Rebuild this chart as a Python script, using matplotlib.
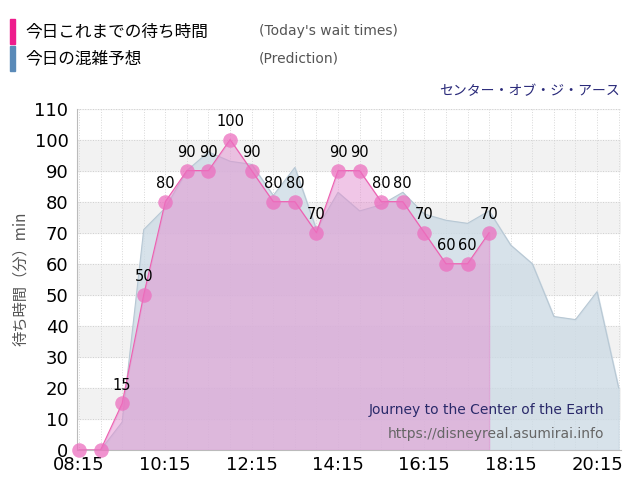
import matplotlib
matplotlib.use('Agg')
import matplotlib.pyplot as plt
import numpy as np

plt.rcParams['font.family'] = ['Noto Sans CJK JP', 'DejaVu Sans']

# actual wait times, every 30 min from 08:15
actual_times = np.arange(20) * 0.5 + 8.25
actual_vals = [0, 0, 15, 50, 80, 90, 90, 100, 90, 80, 80, 70, 90, 90, 80, 80, 70, 60, 60, 70]

# prediction, every 30 min from 08:15 to 20:45
pred_times = np.arange(26) * 0.5 + 8.25
pred_vals = [0, 0, 9, 71, 78, 90, 96, 93, 92, 82, 91, 71, 83, 77, 79, 83, 76, 74, 73, 77,
             66, 60, 43, 42, 51, 20]

xticks = [8.25, 10.25, 12.25, 14.25, 16.25, 18.25, 20.25]
xlabels = ['08:15', '10:15', '12:15', '14:15', '16:15', '18:15', '20:15']

fig = plt.figure(figsize=(6.4, 5), dpi=100)
ax = fig.add_axes([0.12, 0.1, 0.85, 0.683])
ax.set_xlim(8.2, 20.8)
ax.set_ylim(0, 110)

# alternating bands
for i in range(0, 110, 20):
    ax.axhspan(i + 10, i + 20, color='#f2f2f2', zorder=0)
for t in np.arange(8.25, 21, 0.5):
    ax.axvline(t, color='#d8d8d8', lw=0.7, ls=':', zorder=0.5)
for v in range(0, 111, 10):
    ax.axhline(v, color='#cfcfcf', lw=0.7, ls=':', zorder=0.5)

ax.fill_between(pred_times, pred_vals, color='#cddbe5', alpha=0.8, zorder=1)
ax.plot(pred_times, pred_vals, color='#b8c8d4', lw=0.8, zorder=1)
ax.fill_between(actual_times, actual_vals, color='#e38fd0', alpha=0.5, zorder=2)
ax.plot(actual_times, actual_vals, color='#ee60b0', lw=0.8, zorder=3)
ax.scatter(actual_times, actual_vals, s=110, color='#ec6fbf', alpha=0.75, zorder=4, lw=0,
           clip_on=False)
for t, v in zip(actual_times, actual_vals):
    if v > 0:
        ax.text(t, v + 3.5, str(v), ha='center', va='bottom', fontsize=10.5,
                family='DejaVu Sans', zorder=5)

ax.set_xticks(xticks)
ax.set_xticklabels(xlabels, fontsize=13, family='DejaVu Sans')
ax.set_yticks(range(0, 111, 10))
ax.set_yticklabels([str(v) for v in range(0, 111, 10)], fontsize=13, family='DejaVu Sans')
ax.tick_params(axis='x', length=0, pad=4)
ax.tick_params(axis='y', length=0, pad=6)
for s in ['top', 'right']:
    ax.spines[s].set_visible(False)
ax.spines['left'].set_color('#bbbbbb')
ax.spines['bottom'].set_color('#bbbbbb')
ax.set_ylabel('待ち時間（分）min', fontsize=11, color='#555555', labelpad=4)

ax.text(0.97, 0.105, 'Journey to the Center of the Earth', transform=ax.transAxes,
        ha='right', fontsize=10, color='#2a2a6a', family='DejaVu Sans')
ax.text(0.97, 0.035, 'https://disneyreal.asumirai.info', transform=ax.transAxes,
        ha='right', fontsize=10, color='#666666', family='DejaVu Sans')

fig.text(0.968, 0.81, 'センター・オブ・ジ・アース', ha='right', fontsize=10, color='#2a2a7a')

# legend
fig.patches.append(plt.Rectangle((0.016, 0.912), 0.008, 0.05, color='#ee1c8c',
                                 transform=fig.transFigure))
fig.patches.append(plt.Rectangle((0.016, 0.858), 0.008, 0.05, color='#5a8ab8',
                                 transform=fig.transFigure))
fig.text(0.04, 0.937, '今日これまでの待ち時間', fontsize=12, va='center')
fig.text(0.04, 0.883, '今日の混雑予想', fontsize=12, va='center')
fig.text(0.405, 0.937, "(Today's wait times)", fontsize=10, va='center', color='#555555',
         family='DejaVu Sans')
fig.text(0.405, 0.883, '(Prediction)', fontsize=10, va='center', color='#555555',
         family='DejaVu Sans')

fig.savefig('out.png', dpi=100)
